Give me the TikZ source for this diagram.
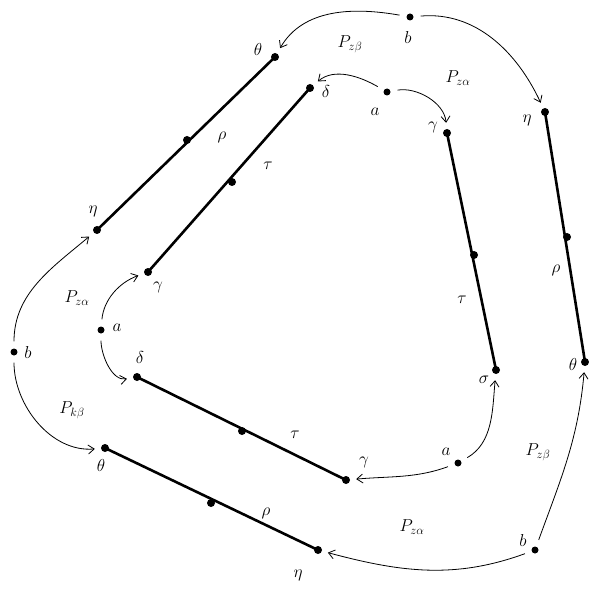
\documentclass[tikz,border=0pt]{standalone}
\usetikzlibrary{arrows.meta}
\begin{document}
\begin{tikzpicture}[x=1pt,y=-1pt,
  dot/.style={circle,fill=black,inner sep=0pt,minimum size=8pt},
  seg/.style={line width=2.6pt,line cap=round},
  arr/.style={-{Straight Barb[length=6pt,width=9pt]},line width=0.8pt,shorten >=6pt,shorten <=7pt},
  lab/.style={font=\LARGE,inner sep=0pt}]
\useasboundingbox (0,0) rectangle (588,601);
% outer segments (rho)
\node[dot] (th1) at (275,57) {};
\node[dot] (et1) at (97,230) {};
\node[dot] (m1) at (187,140) {};
\node[dot] (et2) at (545,112) {};
\node[dot] (th2) at (585,362) {};
\node[dot] (m2) at (567,237) {};
\node[dot] (th3) at (105,448) {};
\node[dot] (et3) at (318,550) {};
\node[dot] (m3) at (211,503) {};
% inner segments (tau)
\node[dot] (de1) at (310,88) {};
\node[dot] (ga1) at (148,272) {};
\node[dot] (n1) at (232,182) {};
\node[dot] (ga2) at (447,133) {};
\node[dot] (si2) at (496,370) {};
\node[dot] (n2) at (474,255) {};
\node[dot] (de3) at (137,377) {};
\node[dot] (ga3) at (346,480) {};
\node[dot] (n3) at (242,431) {};
% b and a points
\node[dot,minimum size=7pt] (b1) at (410,17) {};
\node[dot,minimum size=7pt] (b2) at (14,352) {};
\node[dot,minimum size=7pt] (b3) at (535,550) {};
\node[dot,minimum size=7pt] (a1) at (387,92) {};
\node[dot,minimum size=7pt] (a2) at (101,330) {};
\node[dot,minimum size=7pt] (a3) at (458,463) {};
% segments
\draw[seg] (th1.center) -- (et1.center);
\draw[seg] (et2.center) -- (th2.center);
\draw[seg] (th3.center) -- (et3.center);
\draw[seg] (de1.center) -- (ga1.center);
\draw[seg] (ga2.center) -- (si2.center);
\draw[seg] (de3.center) -- (ga3.center);
% arrows
\draw[arr] (b1) to[out=170,in=60] (th1);
\draw[arr] (b1) to[out=5,in=115] (et2);
\draw[arr] (a1) to[out=150,in=40] (de1);
\draw[arr] (a1) to[out=10,in=95] (ga2);
\draw[arr] (b2) to[out=90,in=220] (et1);
\draw[arr] (b2) to[out=270,in=185] (th3);
\draw[arr] (a2) to[out=85,in=200] (ga1);
\draw[arr] (a2) to[out=270,in=190] (de3);
\draw[arr] (a3) to[out=30,in=265] (si2);
\draw[arr] (a3) to[out=200,in=5] (ga3);
\draw[arr] (b3) to[out=70,in=265] (th2);
\draw[arr] (b3) to[out=200,in=345] (et3);
% letters
\node[lab] (lb1) at (408,38) {$b$};
\node[lab] (lb2) at (28,352) {$b$};
\node[lab] (lb3) at (523,540) {$b$};
\node[lab] (la1) at (375,112) {$a$};
\node[lab] (la2) at (117,328) {$a$};
\node[lab] (la3) at (446,452) {$a$};
\node[lab] (lth1) at (258,50) {$\theta$};
\node[lab] (let1) at (93,211) {$\eta$};
\node[lab] (lrho1) at (222,137) {$\rho$};
\node[lab] (let2) at (527,120) {$\eta$};
\node[lab] (lth2) at (573,364) {$\theta$};
\node[lab] (lrho2) at (556,270) {$\rho$};
\node[lab] (lth3) at (101,465) {$\theta$};
\node[lab] (let3) at (298,575) {$\eta$};
\node[lab] (lrho3) at (266,513) {$\rho$};
\node[lab] (lde1) at (326,92) {$\delta$};
\node[lab] (lga1) at (158,287) {$\gamma$};
\node[lab] (ltau1) at (268,166) {$\tau$};
\node[lab] (lga2) at (433,127) {$\gamma$};
\node[lab] (lsi2) at (484,380) {$\sigma$};
\node[lab] (ltau2) at (462,300) {$\tau$};
\node[lab] (lde3) at (140,357) {$\delta$};
\node[lab] (lga3) at (364,462) {$\gamma$};
\node[lab] (ltau3) at (295,435) {$\tau$};
% P labels
\node[lab] (p1) at (350,44) {$P_{z\beta}$};
\node[lab] (p2) at (458,78) {$P_{z\alpha}$};
\node[lab] (p3) at (77,298) {$P_{z\alpha}$};
\node[lab] (p4) at (72,410) {$P_{k\beta}$};
\node[lab] (p5) at (538,452) {$P_{z\beta}$};
\node[lab] (p6) at (412,527) {$P_{z\alpha}$};
\end{tikzpicture}
\end{document}
